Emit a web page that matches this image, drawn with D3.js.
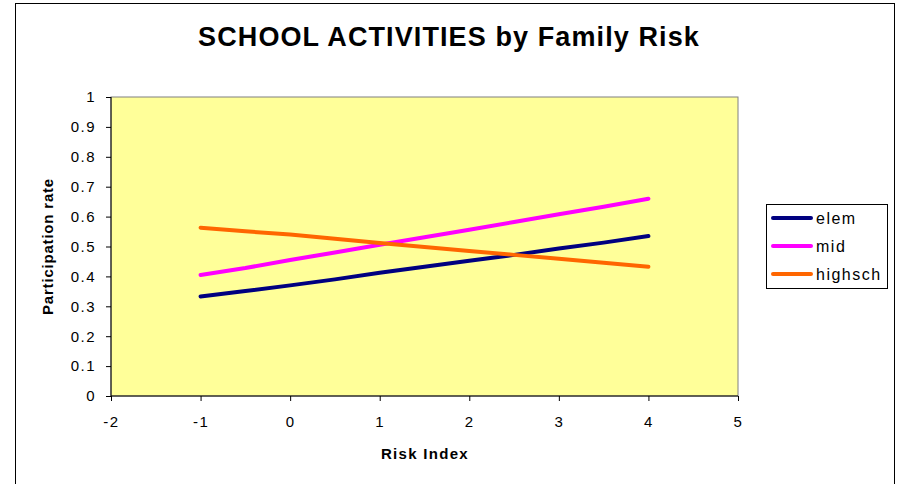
<!DOCTYPE html>
<html>
<head>
<meta charset="utf-8">
<script src="https://cdn.jsdelivr.net/npm/d3@7"></script>
<style>
  html, body { margin: 0; padding: 0; background: #fff; }
  svg { display: block; font-family: "Liberation Sans", Arial, sans-serif; }
</style>
</head>
<body>
<svg id="chart" width="901" height="484"></svg>
<script>
const riskIndex = [-1, -0.5, 0, 0.5, 1, 1.5, 2, 2.5, 3, 3.5, 4];
const elem    = [0.333, 0.351, 0.370, 0.390, 0.412, 0.432, 0.452, 0.472, 0.493, 0.513, 0.535];
const mid     = [0.405, 0.428, 0.455, 0.480, 0.506, 0.531, 0.556, 0.582, 0.608, 0.633, 0.660];
const highsch = [0.563, 0.551, 0.540, 0.526, 0.512, 0.498, 0.485, 0.472, 0.459, 0.446, 0.432];
const seriesNames = ["elem", "mid", "highsch"];
const seriesColors = ["#000080", "#ff00ff", "#ff6600"];
const xTicks = [-2, -1, 0, 1, 2, 3, 4, 5];
const yTicks = [0, 0.1, 0.2, 0.3, 0.4, 0.5, 0.6, 0.7, 0.8, 0.9, 1];

const seriesValues = [elem, mid, highsch];
const svg = d3.select("#chart");

// outer chart border
svg.append("rect").attr("x", 15.5).attr("y", 3.5).attr("width", 879).attr("height", 500)
  .attr("fill", "#fff").attr("stroke", "#000").attr("stroke-width", 1);

const L = 111, R = 738, T = 97, B = 396;
const x = d3.scaleLinear().domain([-2, 5]).range([L, R]);
const y = d3.scaleLinear().domain([0, 1]).range([B, T]);

// plot area
svg.append("rect").attr("x", L).attr("y", T).attr("width", R - L).attr("height", B - T)
  .attr("fill", "#ffff99").attr("stroke", "#808080").attr("stroke-width", 1);

// axes
const yAxis = d3.axisLeft(y).tickValues(yTicks).tickSize(5).tickPadding(10)
  .tickFormat(d => String(d));
const gy = svg.append("g").attr("transform", `translate(${L},0)`).call(yAxis);
const xAxis = d3.axisBottom(x).tickValues(xTicks).tickSize(5).tickPadding(15)
  .tickFormat(d => String(d));
const gx = svg.append("g").attr("transform", `translate(0,${B})`).call(xAxis);
[gx, gy].forEach(g => {
  g.select(".domain").attr("stroke", "#000");
  g.selectAll(".tick line").attr("stroke", "#000");
  g.selectAll(".tick text").attr("font-size", 15).attr("fill", "#000")
    .attr("letter-spacing", 1.5)
    .attr("font-family", "Liberation Sans, Arial, sans-serif");
});
gy.select(".domain").attr("d", `M-0,${T}V${B}`);
gx.select(".domain").attr("d", `M${L},0H${R}`);

// lines
const line = d3.line().x((d, i) => x(riskIndex[i])).y(d => y(d));
seriesValues.forEach((vals, k) => {
  svg.append("path").datum(vals).attr("d", line)
    .attr("fill", "none").attr("stroke", seriesColors[k]).attr("stroke-width", 4)
    .attr("stroke-linecap", "round").attr("stroke-linejoin", "round");
});

// title
svg.append("text").attr("x", 449).attr("y", 46).attr("text-anchor", "middle")
  .attr("font-size", 27).attr("font-weight", "bold").attr("letter-spacing", 1.1)
  .text("SCHOOL ACTIVITIES by Family Risk");

// axis titles
svg.append("text").attr("x", 425).attr("y", 459).attr("text-anchor", "middle")
  .attr("font-size", 15).attr("font-weight", "bold").attr("letter-spacing", 1.3)
  .text("Risk Index");
svg.append("text").attr("transform", `translate(53,${(T + B) / 2}) rotate(-90)`)
  .attr("text-anchor", "middle").attr("font-size", 15).attr("font-weight", "bold")
  .attr("letter-spacing", 0.8)
  .text("Participation rate");

// legend
const lg = svg.append("g");
lg.append("rect").attr("x", 766.5).attr("y", 204.5).attr("width", 121).attr("height", 84)
  .attr("fill", "#fff").attr("stroke", "#000").attr("stroke-width", 1);
seriesNames.forEach((name, k) => {
  const yy = 218 + k * 28;
  lg.append("line").attr("x1", 773).attr("x2", 811).attr("y1", yy).attr("y2", yy)
    .attr("stroke", seriesColors[k]).attr("stroke-width", 4).attr("stroke-linecap", "round");
  lg.append("text").attr("x", 816).attr("y", yy + 6).attr("font-size", 16)
    .attr("letter-spacing", 1.5).text(name);
});
</script>
</body>
</html>
